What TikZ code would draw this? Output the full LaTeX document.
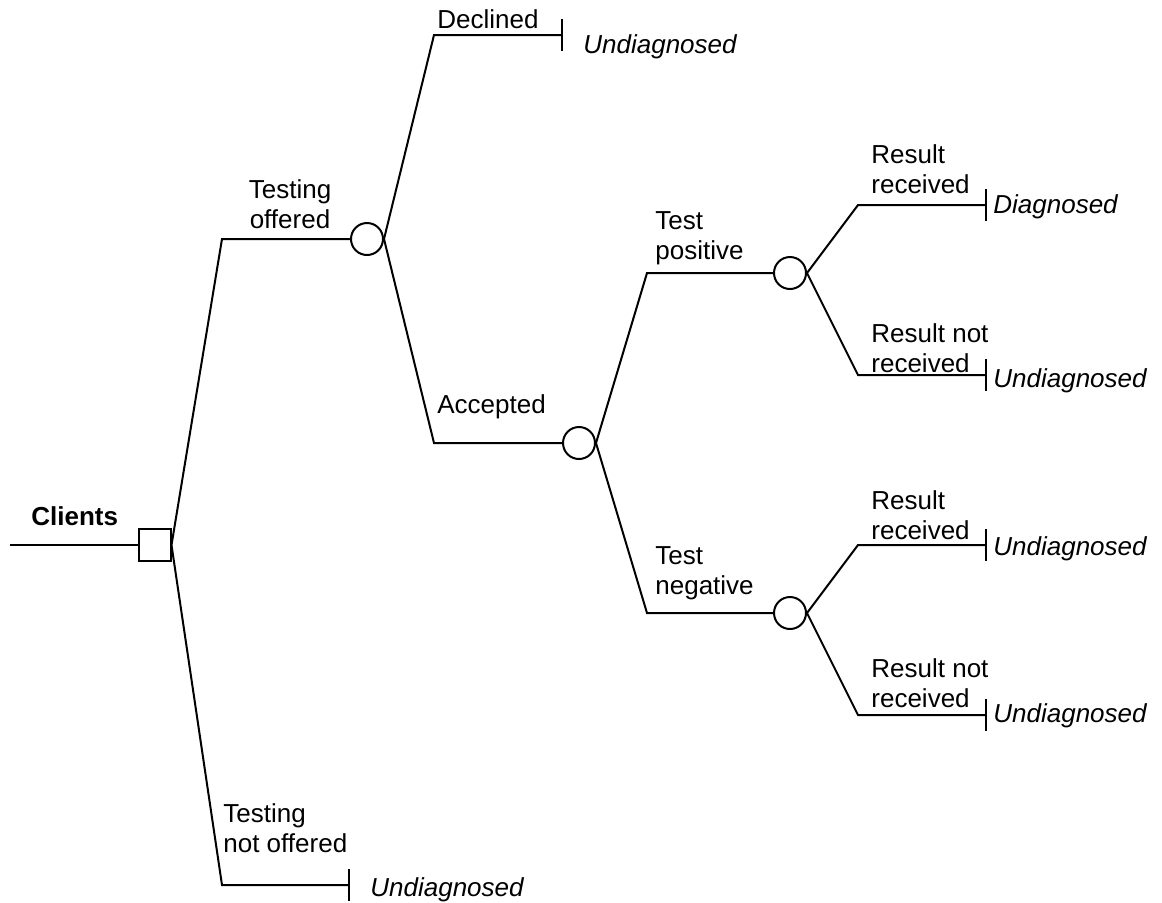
\documentclass[tikz,border=0pt]{standalone}
\usepackage{fontspec}
\setmainfont{Liberation Sans}
\usetikzlibrary{arrows.meta}
\begin{document}
\begin{tikzpicture}[x=0.5pt,y=-0.5pt,
  every node/.style={font=\fontsize{13}{15}\selectfont},
  branch/.style={line width=1pt},
  term/.style={line width=1pt,-{Bar[width=16pt]}},
  chance/.style={circle,draw,line width=1pt,minimum size=16pt,inner sep=0pt},
  decision/.style={rectangle,draw,line width=1pt,minimum size=16pt,inner sep=0pt},
  lbl/.style={anchor=base west,align=left,inner sep=0pt},
  outc/.style={anchor=base west,inner sep=0pt,font=\fontsize{13}{15}\selectfont\itshape}]
\useasboundingbox (0,0) rectangle (1162,902);
% decision and chance nodes
\node[decision] (sq) at (154.5,545) {};
\node[chance] (c1) at (367,239) {};
\node[chance] (c2) at (579,443) {};
\node[chance] (c3) at (790,273) {};
\node[chance] (c4) at (790,613) {};
% bend points and ends
\coordinate (start) at (10,545);
\coordinate (b1) at (222,239);
\coordinate (b2) at (222,885);
\coordinate (b3) at (434,35);
\coordinate (b4) at (434,443);
\coordinate (b5) at (647,273);
\coordinate (b6) at (647,613);
\coordinate (b7) at (858,205);
\coordinate (b8) at (858,375);
\coordinate (b9) at (858,545);
\coordinate (b10) at (858,715);
\coordinate (e1) at (563,35);
\coordinate (e2) at (350,885);
\coordinate (e3) at (987,205);
\coordinate (e4) at (987,375);
\coordinate (e5) at (987,545);
\coordinate (e6) at (987,715);
% connectors
\draw[branch] (start) -- (sq.west);
\draw[branch] (sq.east) -- (b1) -- (c1.west);
\draw[term] (sq.east) -- (b2) -- (e2);
\draw[term] (c1.east) -- (b3) -- (e1);
\draw[branch] (c1.east) -- (b4) -- (c2.west);
\draw[branch] (c2.east) -- (b5) -- (c3.west);
\draw[branch] (c2.east) -- (b6) -- (c4.west);
\draw[term] (c3.east) -- (b7) -- (e3);
\draw[term] (c3.east) -- (b8) -- (e4);
\draw[term] (c4.east) -- (b9) -- (e5);
\draw[term] (c4.east) -- (b10) -- (e6);
% labels (base anchor = baseline of last line)
\node[anchor=base west,inner sep=0pt,font=\fontsize{13}{15}\selectfont\bfseries] (clients) at (31,525) {Clients};
\node[lbl,align=center,anchor=base] (lto) at (290,228) {Testing\\offered};
\node[lbl] (ldec) at (437,28) {Declined};
\node[lbl] (lacc) at (437,413) {Accepted};
\node[lbl] (ltp) at (655,259) {Test\\positive};
\node[lbl] (ltn) at (655,594) {Test\\negative};
\node[lbl] (lrr1) at (871,193) {Result\\received};
\node[lbl] (lrn1) at (871,372) {Result not\\received};
\node[lbl] (lrr2) at (871,539) {Result\\received};
\node[lbl] (lrn2) at (871,707) {Result not\\received};
\node[lbl] (ltno) at (223,852) {Testing\\not offered};
% outcomes
\node[outc] (o1) at (583,53) {Undiagnosed};
\node[outc] (o2) at (993,213) {Diagnosed};
\node[outc] (o3) at (993,387) {Undiagnosed};
\node[outc] (o4) at (993,555) {Undiagnosed};
\node[outc] (o5) at (993,722) {Undiagnosed};
\node[outc] (o6) at (370,896) {Undiagnosed};
\end{tikzpicture}
\end{document}
